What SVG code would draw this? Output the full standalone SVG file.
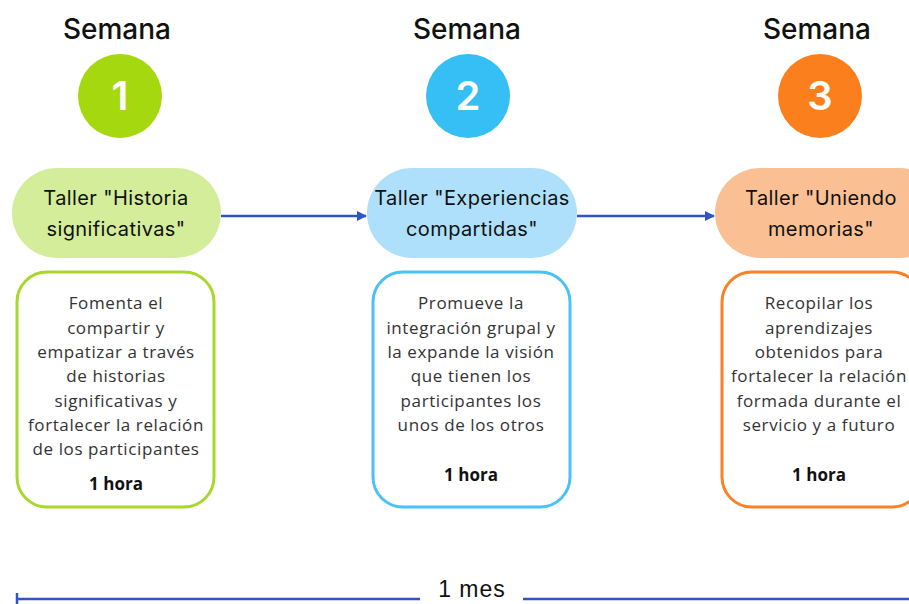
<svg xmlns="http://www.w3.org/2000/svg" width="909" height="604" viewBox="0 0 909 604">
<defs>
<marker id="arr" markerWidth="10" markerHeight="10" refX="9" refY="5" orient="auto" markerUnits="userSpaceOnUse">
<path d="M0,0 L10,5 L0,10 Z" fill="#2f55c4"/>
</marker>
</defs>
<style>
.sem{font-family:"Inter","Noto Sans",sans-serif;font-size:28px;font-weight:500;fill:#111;text-anchor:middle}
.num{font-family:"Inter","Noto Sans",sans-serif;font-size:40px;font-weight:600;fill:#fff;text-anchor:middle}
.pill{font-family:"Inter","Noto Sans",sans-serif;font-size:20px;letter-spacing:0.4px;fill:#111;text-anchor:middle}
.desc{font-family:"Open Sans","Noto Sans",sans-serif;font-size:17px;letter-spacing:0.6px;fill:#333;text-anchor:middle}
.hora{font-family:"Open Sans","Noto Sans",sans-serif;font-size:17px;font-weight:bold;fill:#111;text-anchor:middle}
.box{fill:#fff;stroke-width:3}
.conn{stroke:#2f55c4;stroke-width:2.5;fill:none}
</style>
<rect width="909" height="604" fill="#fff"/>
<g id="week1">
<text class="sem" x="117" y="39">Semana</text>
<circle cx="120" cy="96" r="42" fill="#a6d80f"/>
<text class="num" x="120" y="110">1</text>
<rect x="12" y="168" width="209" height="90" rx="45" fill="#d4ed9b"/>
<text class="pill" x="116" y="205">Taller "Historia</text>
<text class="pill" x="116" y="236">significativas"</text>
<rect class="box" x="17" y="272" width="197" height="235" rx="30" stroke="#a7d82a"/>
<text class="desc" x="116" y="309">Fomenta el</text>
<text class="desc" x="116" y="334">compartir y</text>
<text class="desc" x="116" y="358">empatizar a través</text>
<text class="desc" x="116" y="382">de historias</text>
<text class="desc" x="116" y="407">significativas y</text>
<text class="desc" x="116" y="431">fortalecer la relación</text>
<text class="desc" x="116" y="455">de los participantes</text>
<text class="hora" x="116" y="490">1 hora</text>
</g>
<g id="week2">
<text class="sem" x="467" y="39">Semana</text>
<circle cx="468" cy="96" r="42" fill="#35bff5"/>
<text class="num" x="468" y="110">2</text>
<rect x="367" y="168" width="210" height="90" rx="45" fill="#aee0fb"/>
<text class="pill" x="472" y="205">Taller "Experiencias</text>
<text class="pill" x="472" y="236">compartidas"</text>
<rect class="box" x="373" y="272" width="197" height="235" rx="30" stroke="#4bc2f5"/>
<text class="desc" x="471" y="309">Promueve la</text>
<text class="desc" x="471" y="334">integración grupal y</text>
<text class="desc" x="471" y="358">la expande la visión</text>
<text class="desc" x="471" y="382">que tienen los</text>
<text class="desc" x="471" y="407">participantes los</text>
<text class="desc" x="471" y="431">unos de los otros</text>
<text class="hora" x="471" y="481">1 hora</text>
</g>
<g id="week3">
<text class="sem" x="817" y="39">Semana</text>
<circle cx="820" cy="96" r="42" fill="#fc7f1d"/>
<text class="num" x="820" y="110">3</text>
<rect x="715" y="168" width="230" height="90" rx="45" fill="#fbbf94"/>
<text class="pill" x="821" y="205">Taller "Uniendo</text>
<text class="pill" x="821" y="236">memorias"</text>
<rect class="box" x="722" y="272" width="200" height="235" rx="30" stroke="#fa8126"/>
<text class="desc" x="819" y="309">Recopilar los</text>
<text class="desc" x="819" y="334">aprendizajes</text>
<text class="desc" x="819" y="358">obtenidos para</text>
<text class="desc" x="819" y="382">fortalecer la relación</text>
<text class="desc" x="819" y="407">formada durante el</text>
<text class="desc" x="819" y="431">servicio y a futuro</text>
<text class="hora" x="819" y="481">1 hora</text>
</g>
<g id="connectors">
<line class="conn" x1="221" y1="216" x2="366" y2="216" marker-end="url(#arr)"/>
<line class="conn" x1="577" y1="216" x2="714" y2="216" marker-end="url(#arr)"/>
<line class="conn" x1="17" y1="599" x2="420" y2="599"/>
<line class="conn" x1="17" y1="593" x2="17" y2="604"/>
<line class="conn" x1="523" y1="599" x2="909" y2="599"/>
</g>
<text id="mes" x="472" y="597" style="font-family:'Liberation Sans',sans-serif;font-size:23px;letter-spacing:1px;fill:#111;text-anchor:middle">1 mes</text>
</svg>
